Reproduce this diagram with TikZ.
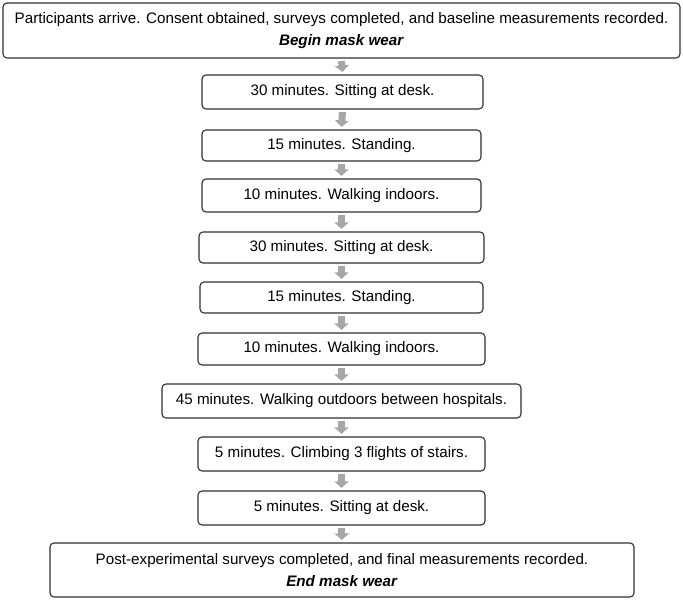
\documentclass[tikz,border=0pt]{standalone}
\usepackage{fontspec}
\setmainfont{Liberation Sans}
\usetikzlibrary{arrows.meta}
\definecolor{arrowgray}{HTML}{A6A6A6}
\definecolor{boxline}{HTML}{303030}
\tikzset{
  stepbox/.style={draw=boxline, line width=1.1pt, rounded corners=4pt, fill=white,
    inner sep=0pt, font=\fontsize{15.2}{22.5}\selectfont, align=center},
  blockarrow/.style={draw=arrowgray, line width=7pt,
    -{Triangle[width=14pt,length=6.5pt]}, arrowgray},
}
\begin{document}
\begin{tikzpicture}[x=1pt,y=-1pt]
\useasboundingbox[fill=white] (0,0) rectangle (683,601);
\node[stepbox, minimum width=677pt, minimum height=55pt] (top) at (341.5,30.5)
  {Participants arrive. Consent obtained, surveys completed, and baseline measurements recorded.\\ \textbf{\textit{Begin mask wear}}};
\node[stepbox, minimum width=281pt, minimum height=34pt] (b1) at (342.5,92) {30 minutes. Sitting at desk.};
\node[stepbox, minimum width=279pt, minimum height=31pt] (b2) at (341.5,145.5) {15 minutes. Standing.};
\node[stepbox, minimum width=279pt, minimum height=33pt] (b3) at (341.5,195.5) {10 minutes. Walking indoors.};
\node[stepbox, minimum width=285pt, minimum height=31pt] (b4) at (341.5,247.5) {30 minutes. Sitting at desk.};
\node[stepbox, minimum width=283pt, minimum height=31pt] (b5) at (341.5,297.5) {15 minutes. Standing.};
\node[stepbox, minimum width=287pt, minimum height=32pt] (b6) at (341.5,349) {10 minutes. Walking indoors.};
\node[stepbox, minimum width=359pt, minimum height=34pt] (b7) at (341.5,401) {45 minutes. Walking outdoors between hospitals.};
\node[stepbox, minimum width=287pt, minimum height=34pt] (b8) at (341.5,454) {5 minutes. Climbing 3 flights of stairs.};
\node[stepbox, minimum width=287pt, minimum height=34pt] (b9) at (341.5,508) {5 minutes. Sitting at desk.};
\node[stepbox, minimum width=584pt, minimum height=54pt] (bot) at (342,570)
  {Post-experimental surveys completed, and final measurements recorded.\\ \textbf{\textit{End mask wear}}};
\foreach \a/\b in {top/b1,b1/b2,b2/b3,b3/b4,b4/b5,b5/b6,b6/b7,b7/b8,b8/b9,b9/bot}{
  \draw[blockarrow] ([yshift=-2.5pt]\a.south) -- ([yshift=2.5pt]\b.north);
}
\end{tikzpicture}
\end{document}
